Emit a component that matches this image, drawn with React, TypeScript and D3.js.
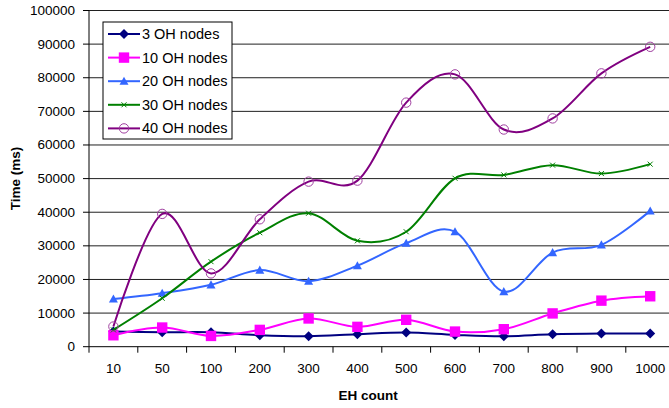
import React from "react";
import * as d3 from "d3";

const categories = ["10", "50", "100", "200", "300", "400", "500", "600", "700", "800", "900", "1000"];
const yTicks = [0, 10000, 20000, 30000, 40000, 50000, 60000, 70000, 80000, 90000, 100000];

const oh3 = [4500, 4300, 4300, 3400, 3100, 3700, 4200, 3500, 3100, 3700, 3900, 3900];
const oh10 = [3400, 5700, 3200, 5000, 8400, 5900, 8000, 4500, 5200, 9900, 13700, 15000];
const oh20 = [14200, 15900, 18400, 22800, 19500, 24100, 30800, 34200, 16400, 28000, 30300, 40400];
const oh30 = [5000, 14400, 25300, 33900, 39700, 31500, 34200, 50100, 51100, 54000, 51500, 54300];
const oh40 = [6000, 39500, 21800, 37900, 49100, 49400, 72600, 81000, 64600, 67900, 81300, 89200];

const seriesNames = ["3 OH nodes", "10 OH nodes", "20 OH nodes", "30 OH nodes", "40 OH nodes"];
const seriesValues = [oh3, oh10, oh20, oh30, oh40];
const colors = ["#000080", "#FF00FF", "#3366FF", "#008000", "#800080"];
const markers = ["diamond", "square", "triangle", "x", "circle"];

const W = 669;
const H = 408;
const left = 89;
const band = 48.8;
const top = 10.5;
const bottom = 346.7;
const font = "'Liberation Sans', Arial, sans-serif";

function Marker({ type, x, y, color }: { type: string; x: number; y: number; color: string }) {
  if (type === "diamond") {
    const r = 5;
    return <path d={`M${x},${y - r}L${x + r},${y}L${x},${y + r}L${x - r},${y}Z`} fill={color} />;
  }
  if (type === "square") {
    const s = 5.2;
    return <rect x={x - s} y={y - s} width={2 * s} height={2 * s} fill={color} />;
  }
  if (type === "triangle") {
    const r = 4.5;
    return <path d={`M${x},${y - r}L${x + r},${y + r * 0.8}L${x - r},${y + r * 0.8}Z`} fill={color} />;
  }
  if (type === "x") {
    const r = 2.5;
    return (
      <path
        d={`M${x - r},${y - r}L${x + r},${y + r}M${x - r},${y + r}L${x + r},${y - r}`}
        stroke={color}
        strokeWidth={1}
        fill="none"
      />
    );
  }
  return <circle cx={x} cy={y} r={4.7} fill="none" stroke="#a040a0" strokeWidth={1} />;
}

export default function App() {
  const x = d3.scaleBand<string>().domain(categories).range([left, left + band * categories.length]).padding(0);
  const y = d3.scaleLinear().domain([0, 100000]).range([bottom, top]);
  const cx = (c: string) => (x(c) as number) + x.bandwidth() / 2;

  const line = d3
    .line<number>()
    .x((_, i) => cx(categories[i]))
    .y((v) => y(v))
    .curve(d3.curveCardinal.tension(0));

  const legendX = 103;
  const legendY = 22;
  const legendW = 129;
  const legendH = 117;
  const legendRow = 23.6;

  return (
    <svg
      width={W}
      height={H}
      style={{ position: "absolute", left: 0, top: 0, background: "#fff" }}
      fontFamily={font}
    >
      {/* gridlines */}
      {yTicks.slice(1).map((t) => (
        <line key={"g" + t} x1={left} x2={W} y1={y(t)} y2={y(t)} stroke="#202020" strokeWidth={1} />
      ))}
      {/* y axis */}
      <line x1={left} x2={left} y1={top} y2={bottom} stroke="#000" strokeWidth={1} />
      {yTicks.map((t) => (
        <g key={"yt" + t}>
          <line x1={left - 6} x2={left} y1={y(t)} y2={y(t)} stroke="#000" />
          <text x={75} y={y(t)} textAnchor="end" dominantBaseline="central" fontSize={13.5} fill="#000">
            {t}
          </text>
        </g>
      ))}
      {/* x axis */}
      <line x1={left} x2={W} y1={bottom} y2={bottom} stroke="#000" strokeWidth={1} />
      {categories.map((c) => (
        <g key={"xt" + c}>
          <line x1={x(c) as number} x2={x(c) as number} y1={bottom} y2={bottom + 6} stroke="#000" />
          <text x={cx(c)} y={368} textAnchor="middle" dominantBaseline="central" fontSize={13.5} fill="#000">
            {c}
          </text>
        </g>
      ))}
      {/* axis titles */}
      <text x={368} y={395} textAnchor="middle" dominantBaseline="central" fontSize={13.5} fontWeight="bold">
        EH count
      </text>
      <text
        transform={`translate(15,${(top + bottom) / 2}) rotate(-90)`}
        textAnchor="middle"
        dominantBaseline="central"
        fontSize={13.5}
        fontWeight="bold"
      >
        Time (ms)
      </text>
      {/* series */}
      {seriesValues.map((vals, si) => (
        <g key={"s" + si}>
          <path d={line(vals) as string} fill="none" stroke={colors[si]} strokeWidth={2} />
          {vals.map((v, i) => (
            <Marker key={i} type={markers[si]} x={cx(categories[i])} y={y(v)} color={colors[si]} />
          ))}
        </g>
      ))}
      {/* legend */}
      <rect x={legendX} y={legendY} width={legendW} height={legendH} fill="#fff" stroke="#000" strokeWidth={1} />
      {seriesNames.map((n, i) => {
        const ly = 34 + i * legendRow;
        return (
          <g key={"l" + i}>
            <line x1={108} x2={140} y1={ly} y2={ly} stroke={colors[i]} strokeWidth={2} />
            <Marker type={markers[i]} x={124} y={ly} color={colors[i]} />
            <text x={142} y={ly} dominantBaseline="central" fontSize={14.5} fill="#000">
              {n}
            </text>
          </g>
        );
      })}
    </svg>
  );
}
